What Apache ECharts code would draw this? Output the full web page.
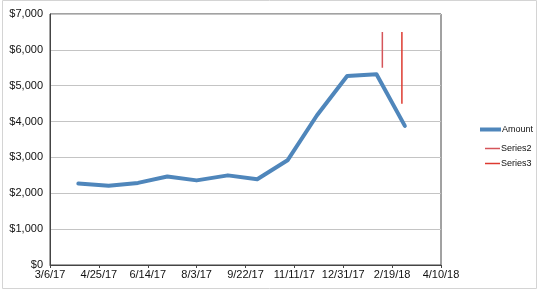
<!DOCTYPE html>
<html>
<head>
<meta charset="utf-8">
<script src="https://cdn.jsdelivr.net/npm/echarts@6/dist/echarts.min.js"></script>
<style>
html,body{margin:0;padding:0;background:#fff;}
#c{width:540px;height:292px;}
</style>
</head>
<body>
<div id="c"></div>
<script>
// ---- data ----
const amountDates = ['2017-04-04','2017-05-05','2017-06-04','2017-07-04','2017-08-03','2017-09-04','2017-10-04','2017-11-04','2017-12-04','2018-01-04','2018-02-03','2018-03-04'];
const amountValues = [2270, 2210, 2290, 2470, 2360, 2500, 2390, 2920, 4170, 5270, 5320, 3880];
const series2Dates = ['2018-02-09','2018-02-09'];
const series2Values = [5500, 6500];
const series3Dates = ['2018-03-01','2018-03-01'];
const series3Values = [4500, 6500];
const xMinDate = '2017-03-06';
const xMaxDate = '2018-04-10';
const xTickDays = 50;
const yMin = 0, yMax = 7000, yTick = 1000;

// Excel-style serial numbers
const EPOCH = Date.UTC(1899, 11, 30);
function serial(s){ const p = s.split('-').map(Number); return Math.round((Date.UTC(p[0], p[1]-1, p[2]) - EPOCH) / 86400000); }
function fmtDate(v){ const d = new Date(EPOCH + v*86400000); return (d.getUTCMonth()+1) + '/' + d.getUTCDate() + '/' + String(d.getUTCFullYear()%100).padStart(2,'0'); }
function pairs(ds, vs){ return ds.map((d,i)=>[serial(d), vs[i]]); }

const chart = echarts.init(document.getElementById('c'), null, {renderer:'canvas'});
const FONT = 'Liberation Sans, Arial, sans-serif';
chart.setOption({
  animation:false,
  backgroundColor:'#fff',
  grid:{left:50, top:14, right:99, bottom:27, show:true, borderColor:'#444', borderWidth:1, backgroundColor:'#fff'},
  xAxis:{
    type:'value', min:serial(xMinDate), max:serial(xMaxDate), interval:xTickDays,
    axisLine:{show:true, lineStyle:{color:'#444', width:1}},
    axisTick:{show:true, length:3, lineStyle:{color:'#444'}},
    splitLine:{show:false},
    axisLabel:{formatter:fmtDate, color:'#111', fontSize:11, fontFamily:FONT, margin:4}
  },
  yAxis:{
    type:'value', min:yMin, max:yMax, interval:yTick,
    axisLine:{show:true, lineStyle:{color:'#444', width:1}},
    axisTick:{show:false},
    splitLine:{show:true, lineStyle:{color:'#c4c4c4', width:1}},
    axisLabel:{formatter:v=>'$'+v.toLocaleString('en-US'), color:'#111', fontSize:11, fontFamily:FONT, margin:7}
  },
  legend:[
    {data:[{name:'Amount', icon:'rect'}], orient:'vertical', left:475, top:120, itemWidth:21, itemHeight:4,
     textStyle:{fontSize:9, fontFamily:FONT, color:'#111', padding:[0,0,0,-4]}},
    {data:[{name:'Series2', icon:'rect'},{name:'Series3', icon:'rect'}], orient:'vertical', left:480, top:139, itemWidth:15, itemHeight:1.5, itemGap:6,
     textStyle:{fontSize:9, fontFamily:FONT, color:'#111', padding:[0,0,0,-4]}}
  ],
  graphic:[{type:'rect', shape:{x:2.5, y:0.5, width:534, height:288}, style:{fill:'none', stroke:'#d4d4d4', lineWidth:1}, silent:true, z:-1}],
  series:[
    {name:'Amount', type:'line', data:pairs(amountDates, amountValues), symbol:'none',
     lineStyle:{color:'#4f86bb', width:4, join:'round', cap:'round'}, itemStyle:{color:'#4f86bb'}},
    {name:'Series2', type:'line', data:pairs(series2Dates, series2Values), symbol:'none',
     lineStyle:{color:'#d5555a', width:1.5}, itemStyle:{color:'#d5555a'}},
    {name:'Series3', type:'line', data:pairs(series3Dates, series3Values), symbol:'none',
     lineStyle:{color:'#dd3a30', width:1.5}, itemStyle:{color:'#dd3a30'}}
  ]
});
</script>
</body>
</html>
